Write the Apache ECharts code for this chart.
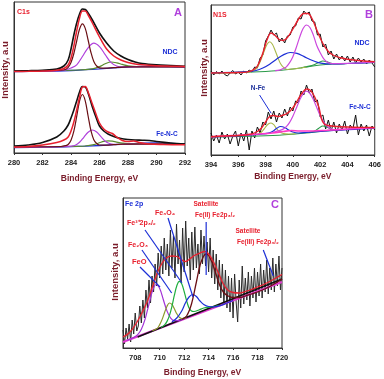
<!DOCTYPE html>
<html>
<head>
<meta charset="utf-8">
<script src="https://cdn.jsdelivr.net/npm/echarts@6/dist/echarts.min.js"></script>
<style>
html,body{margin:0;padding:0;background:#fff}
#chart{width:384px;height:379px}
</style>
</head>
<body>
<div id="chart"></div>
<script>
// ---- panel A : C1s (binding energy eV, intensity arb.) ----
const aTicks = [280, 282, 284, 286, 288, 290, 292];
const aBlueNdc = [[280,81.5],[282,81.8],[283,82],[284,82.5],[285,83.3],[286,84.2],[287,85.2],[288,86],[289,86.5],[290,86.5],[291,86.3],[292,86]];
const aMaroonNdc = [[280,81.6],[283.3,82.8],[283.6,83.5],[283.8,85.6],[284.0,90.5],[284.2,99.5],[284.4,112],[284.6,124],[284.8,129.2],[285.0,124.6],[285.2,113],[285.4,100.5],[285.6,91.5],[285.8,87],[286.0,85.2],[286.4,84.8],[287.0,85.4],[288,86.1],[292,86.1]];
const aMagNdc = [[280,81.5],[283.2,82.4],[283.6,83.2],[284.0,85],[284.4,88.2],[284.8,96.5],[285.2,105.2],[285.6,109.8],[286.0,106.3],[286.4,98.4],[286.8,90.6],[287.2,87],[287.6,86],[288.2,86.1],[289,86.5],[292,86.2]];
const aGreenNdc = [[280,81.8],[284.5,83],[285.5,84.2],[286.0,86.4],[286.4,89.2],[286.8,91],[287.2,90.2],[287.6,88.6],[288.0,87.2],[288.6,86.4],[289.5,86.5],[292,86]];
const aRawNdc = [[280,82],[281,82.3],[282,82.8],[283,84],[283.5,87],[283.8,93],[284.0,104],[284.2,118],[284.4,130],[284.6,139],[284.8,144],[285.0,143.5],[285.2,140],[285.5,133],[286.0,120],[286.5,110],[287.0,102],[287.5,97],[288.0,93.5],[288.5,91],[289.0,89.5],[290.0,88.2],[291,87.5],[292,86.8]];
const aFitNdc = [[280,81.5],[281,81.7],[282,82],[283,82.8],[283.5,84.5],[283.8,88],[284.0,95],[284.2,107],[284.4,122],[284.6,135],[284.8,142],[285.0,142],[285.2,138],[285.5,130],[286.0,116],[286.5,104],[287.0,97],[287.5,93],[288.0,90.5],[288.5,89],[289,88.2],[290,87.3],[291,86.8],[292,86.4]];

const aBlueFe = [[280,5.5],[282,5.8],[284,6.3],[285,6.8],[286,7.5],[287,8.3],[288,9],[289,9.8],[290,10],[291,9.5],[292,9]];
const aMaroonFe = [[280,6],[283.3,6.5],[283.6,7.3],[283.8,8.5],[284.0,12.8],[284.2,21.8],[284.4,36.6],[284.6,52],[284.8,58.5],[285.0,52.2],[285.2,37],[285.4,22.3],[285.6,13.3],[285.8,9.5],[286.0,8],[286.5,7.8],[287,8.3],[288,9],[292,8.8]];
const aMagFe = [[280,5.6],[283.5,6.3],[284.0,6.8],[284.3,7.8],[284.6,10.8],[284.9,15.7],[285.2,20.7],[285.5,23],[285.8,21],[286.1,16.3],[286.4,11.8],[286.7,9.5],[287.0,8.6],[287.5,8.5],[288,9],[292,9]];
const aGreenFe = [[280,5.8],[284.0,6.5],[285.0,7],[285.6,8.3],[286.0,10.2],[286.3,11.6],[286.6,12.2],[286.9,11.8],[287.2,10.9],[287.6,9.9],[288.2,9.2],[289,9.5],[292,9]];
const aRawFe = [[280,7],[281,8],[282,10.5],[283,16],[283.5,22],[283.8,28],[284.0,35],[284.2,43],[284.4,52],[284.6,61],[284.8,66.5],[285.0,66],[285.2,60],[285.5,46],[285.8,34],[286.0,27],[286.3,22],[286.6,19],[287.0,16.5],[287.5,14.5],[288,13.5],[288.5,13],[289,12.8],[289.5,12.5],[290,11.5],[291,10],[292,9]];
const aFitFe = [[280,6],[281,6.5],[282,8],[283,10.5],[283.5,13],[283.8,16],[284.0,22],[284.2,31],[284.4,43],[284.6,56],[284.8,66],[285.0,66.5],[285.2,61],[285.5,49],[285.8,37],[286.0,30],[286.3,24],[286.6,21],[286.9,19.5],[287.2,16],[287.6,12.5],[288.0,11.5],[288.4,12],[288.8,10.5],[289.5,9],[290.5,8.5],[292,8.2]];

// ---- panel B : N1S ----
const bTicks = [394, 396, 398, 400, 402, 404, 406];
const bEnergy = [394,394.2,394.4,394.6,394.8,395,395.2,395.4,395.6,395.8,396,396.2,396.4,396.6,396.8,397,397.2,397.4,397.6,397.8,
  398,398.2,398.4,398.6,398.8,399,399.2,399.4,399.6,399.8,400,400.2,400.4,400.6,400.8,401,401.2,401.4,401.6,401.8,
  402,402.2,402.4,402.6,402.8,403,403.2,403.4,403.6,403.8,404,404.2,404.4,404.6,404.8,405,405.2,405.4,405.6,405.8,406];
const bRawNdc = [84,80,83.5,81,84,80.5,79,82,84.5,81,83,80,84,82,85,83,88,87,97,100,
  114,119,125,120,122,113,117,112,119,120,128,129,137,136,144,141,143,134,133,120,
  121,108,111,100,104,96,101,95,99,94,99,93,98,92,97,93,96,91,95,92,88];
const bRawFe = [22,14,20,12,23,16,21,11,19,24,9,22,14,25,5,24,17,28,22,33,
  30,43,36,44,33,42,37,46,39,48,44,54,52,64,60,70,62,66,53,55,
  38,40,26,35,24,33,22,31,25,34,21,30,26,40,20,31,24,30,19,29,25];
const bBaseNdc = [[394,82],[396,82.5],[398,83.5],[399,84.5],[400,86],[401,88],[402,90],[403,91],[404,91.5],[405,92],[406,92.5]];
const bGreenNdc = [[400.6,87.3],[401.2,88.9],[401.6,90.6],[401.9,92.5],[402.2,94],[402.5,93.2],[402.8,91.8],[403.2,91.2],[403.8,91.4]];
const bOliveNdc = [[394,82],[396.5,83],[397.0,83.8],[397.3,86.2],[397.5,90.2],[397.7,96.5],[397.9,104],[398.1,110.5],[398.3,113.3],[398.5,110.7],[398.7,104.5],[398.9,97.4],[399.1,91.2],[399.3,87.8],[399.6,85.5],[400,86],[401,88]];
const bBlueNdc = [[394,82],[396.8,83.5],[397.3,84.5],[397.8,87],[398.3,90.8],[398.8,95.8],[399.3,100.1],[399.8,102.5],[400.3,101.6],[400.8,98.6],[401.3,95.2],[401.8,92.6],[402.3,91.4],[402.8,91.2],[403.5,91.2],[404,91.5],[406,92.5]];
const bMagNdc = [[398.7,84.3],[399.0,84.8],[399.25,86.3],[399.5,87.9],[399.75,92.1],[400.0,98.3],[400.25,107.5],[400.5,117.9],[400.75,126.5],[401.0,130],[401.25,127.5],[401.5,119.9],[401.75,109.5],[402.0,102.3],[402.25,96.4],[402.5,93.1],[402.75,91.7],[403.0,91.3],[403.5,91.4],[406,92.8]];
const bFitNdc = [[394,82],[395,82.2],[396,82.5],[396.6,82.9],[397.0,84.3],[397.4,89],[397.8,102],[398.1,115],[398.4,122],[398.7,119.5],[399.0,115.5],[399.3,114.5],[399.6,117.5],[400.0,126],[400.4,135.5],[400.8,141.5],[401.1,141.5],[401.4,136.5],[401.8,123.5],[402.2,111.5],[402.6,103.5],[403.0,99.5],[403.5,97.2],[404,95.8],[405,94.2],[406,93.2]];

const bPinkFe = [[394,18.3],[396,19.8],[397.5,21],[398.5,22],[399.3,23.5],[399.9,24.5],[400.5,24],[401.5,24],[402.5,24.8],[404,26],[406,27.3]];
const bBaseFe = [[394,18],[396,18.5],[398,19.2],[399,19.8],[400,20.8],[401,22],[402,23.5],[403,24.8],[404,25.7],[406,27]];
const bGreenFe = [[401.2,22.5],[401.6,24],[401.9,26.8],[402.2,29],[402.5,28],[402.8,25.8],[403.2,25],[403.8,25.5]];
const bOliveFe = [[396.8,19.8],[397.3,20.5],[397.6,22],[397.8,24.5],[398.0,28],[398.2,31],[398.4,32],[398.6,30.3],[398.8,26.5],[399.0,23.5],[399.3,21.5],[399.7,21],[400.2,21.2]];
const bBlueFe = [[394,18],[396,19],[397,20],[397.8,21],[398.2,21.8],[398.5,23.5],[398.8,26.5],[399.1,28.5],[399.4,27.5],[399.7,25],[400.0,23],[400.4,22],[401,22.5],[402,23.5],[403,24.5],[404,25.3],[405,26],[406,26.8]];
const bMagFe = [[398.5,22.5],[399.0,24.4],[399.25,25.6],[399.5,28.1],[399.75,32.4],[400.0,38.8],[400.25,46.8],[400.5,55],[400.75,61.2],[401.0,63.8],[401.25,61.5],[401.5,55.5],[401.75,47.5],[402.0,39.5],[402.25,33.2],[402.5,29],[402.75,26.5],[403.0,25.4],[403.5,25.3],[404,25.7]];
const bFitFe = [[394,18.3],[395,19],[396,19.5],[396.5,20],[397,21.2],[397.4,23.5],[397.7,27],[398.0,33],[398.3,38.5],[398.6,39.5],[398.9,38.5],[399.2,39.5],[399.5,41],[399.8,44],[400.1,49],[400.4,56],[400.7,62.5],[401.0,66],[401.3,64.5],[401.6,58],[401.9,48],[402.1,36],[402.3,31],[402.6,29.5],[403,28.8],[404,28],[405,27.6],[406,27.5]];
const bNFePointer = [[397.56,60],[398.41,41.7]];

// ---- panel C : Fe 2p ----
const cTicks = [708, 710, 712, 714, 716, 718, 720];
const cEnergy = [707,707.125,707.25,707.375,707.5,707.625,707.75,707.875,
  708,708.125,708.25,708.375,708.5,708.625,708.75,708.875,
  709,709.125,709.25,709.375,709.5,709.625,709.75,709.875,
  710,710.125,710.25,710.375,710.5,710.625,710.75,710.875,
  711,711.125,711.25,711.375,711.5,711.625,711.75,711.875,
  712,712.125,712.25,712.375,712.5,712.625,712.75,712.875,
  713,713.125,713.25,713.375,713.5,713.625,713.75,713.875,
  714,714.125,714.25,714.375,714.5,714.625,714.75,714.875,
  715,715.125,715.25,715.375,715.5,715.625,715.75,715.875,
  716,716.125,716.25,716.375,716.5,716.625,716.75,716.875,
  717,717.125,717.25,717.375,717.5,717.625,717.75,717.875,
  718,718.125,718.25,718.375,718.5,718.625,718.75,718.875,
  719,719.125,719.25,719.375,719.5,719.625,719.75,719.875,720];
const cRaw = [18,4,20,9,24,6,28,14,
  35,17,22,42,25,48,30,58,
  40,68,45,72,56,84,62,95,
  70,102,74,110,78,104,72,118,
  80,112,70,124,84,108,66,120,
  76,127,82,110,68,116,78,121,
  80,104,74,118,84,112,82,106,
  76,110,70,98,64,94,58,88,
  50,84,44,78,40,72,36,70,
  30,74,46,26,68,40,82,44,
  70,48,76,42,72,50,80,46,
  76,52,84,50,78,56,88,54,
  80,58,90,56,84,62,92,58,80];
const cBaseMag = [[707,6],[720,66]];
const cBaseBlack = [[708.2,11],[720,69]];
const cFeO = [[707.3,7.6],[707.9,10.7],[708.2,13.4],[708.5,18.8],[708.8,28.6],[709.1,42.7],[709.4,56.7],[709.7,63.5],[710.0,59.4],[710.3,48.2],[710.6,36.9],[710.9,29.9],[711.2,27.3],[711.5,27.3],[711.8,28.4],[712.2,30]];
const cFe2O3 = [[709.4,17.3],[709.8,19.6],[710.0,23.4],[710.2,28.6],[710.4,35.5],[710.6,41.8],[710.8,45],[711.0,43.6],[711.2,39.2],[711.4,34.2],[711.6,30.8],[711.8,29.5],[712.2,30]];
const cFe3 = [[710.1,20.5],[710.4,23.2],[710.6,26.6],[710.8,32.6],[711.0,41.7],[711.2,52.8],[711.4,62.3],[711.6,66.7],[711.8,64.2],[712.0,56.5],[712.2,47.3],[712.4,40],[712.6,37],[712.8,36.5],[713.2,38],[713.6,40],[714.2,41],[714.8,42.5]];
const cFe3O4 = [[711.0,26],[711.4,30],[711.8,37],[712.1,45],[712.4,51],[712.7,53.5],[713.0,51.5],[713.3,47],[713.6,43.5],[714.0,41.5],[714.5,41.2],[715.0,42.5],[715.5,45],[716,47.5]];
const cSatII = [[711.8,28.5],[712.2,32],[712.6,44],[713.0,66],[713.3,83],[713.6,92],[713.8,94],[714.0,92.5],[714.3,85],[714.6,74],[714.9,63],[715.2,56],[715.6,52],[716.0,50.5],[716.5,50.5],[717.0,52],[717.5,54],[718.0,56],[718.5,58.5],[719.0,61.5],[719.5,65],[720.0,69]];
const cFit = [[707.0,11],[707.5,15],[708.0,23],[708.5,34],[709.0,47],[709.4,61],[709.8,75],[710.2,85],[710.6,90.5],[711.0,92],[711.4,91.5],[711.8,88],[712.1,86.5],[712.5,89.5],[712.9,93],[713.3,95],[713.7,96.5],[714.0,94],[714.4,86],[714.8,75],[715.2,64],[715.6,57.5],[716.0,55.5],[716.5,55],[717.0,56.5],[717.5,58.5],[718.0,61],[718.5,63.5],[719.0,66.5],[719.5,70],[720.0,73.5]];
const cPointers = [
  [[710.68,130],[712.72,51]],
  [[708.8,118],[711.82,65]],
  [[708.55,98],[710.98,55]],
  [[708.39,81],[710.03,61]],
  [[713.8,126],[713.8,73]],
  [[718.47,98],[719.29,72]]
];

const FONT = '"Liberation Sans", Arial, sans-serif';
const RED = '#e8202e', MAROON = '#6a0f14', BLUE = '#1c2fd6', VIOLET = '#b040dc';
const AXNAME = '#7a1c2a';

function curve(data, color, w, g, smooth, z) {
  return {
    type: 'line', data: data, xAxisIndex: g, yAxisIndex: g,
    symbol: 'none', smooth: smooth ? 0.35 : false, silent: true, z: z || 2,
    lineStyle: { color: color, width: w }
  };
}
function zip(xs, ys) {
  return xs.map(function (x, i) { return [x, ys[i]]; });
}
function xAx(g, min, max, ticks, gap) {
  return {
    gridIndex: g, type: 'value', min: min, max: max,
    name: 'Binding Energy, eV', nameLocation: 'middle', nameGap: gap,
    nameTextStyle: { color: AXNAME, fontFamily: FONT, fontWeight: 'bold', fontSize: 8.5 },
    axisLine: { show: true, onZero: false, lineStyle: { color: '#333', width: 1 } },
    axisTick: { show: true, length: 2, customValues: ticks, lineStyle: { color: '#333' } },
    axisLabel: { customValues: ticks, margin: 6, color: '#222', fontFamily: FONT, fontWeight: 'bold', fontSize: 7.5 },
    splitLine: { show: false }
  };
}
function yAx(g, max) {
  return {
    gridIndex: g, type: 'value', min: 0, max: max,
    axisLine: { show: true, lineStyle: { color: '#333' } },
    axisTick: { show: false }, axisLabel: { show: false }, splitLine: { show: false }
  };
}
function txt(x, y, s, color, size, align) {
  return {
    type: 'text', x: x, y: y, silent: true,
    style: { text: s, fill: color, font: 'bold ' + size + 'px ' + FONT, align: align || 'left', verticalAlign: 'middle' }
  };
}
function vtxt(x, y, s) {
  return {
    type: 'text', x: x, y: y, rotation: Math.PI / 2, silent: true,
    style: { text: s, fill: AXNAME, font: 'bold 9.5px ' + FONT, align: 'center', verticalAlign: 'middle' }
  };
}

const series = [
  // A
  curve(aBlueNdc, BLUE, 1.3, 0, true),
  curve(aGreenNdc, '#5a8c2e', 1.2, 0, true),
  curve(aMagNdc, VIOLET, 1.2, 0, true),
  curve(aMaroonNdc, MAROON, 1.2, 0, true),
  curve(aRawNdc, '#111', 1.6, 0, true, 3),
  curve(aFitNdc, RED, 1.5, 0, true, 4),
  curve(aBlueFe, BLUE, 1.3, 0, true),
  curve(aGreenFe, '#5a8c2e', 1.2, 0, true),
  curve(aMagFe, VIOLET, 1.2, 0, true),
  curve(aMaroonFe, MAROON, 1.2, 0, true),
  curve(aRawFe, '#111', 1.6, 0, true, 3),
  curve(aFitFe, RED, 1.5, 0, true, 4),
  // B
  curve(zip(bEnergy, bRawNdc), '#111', 1, 1, false, 1),
  curve(bBaseNdc, '#2a9a48', 1.1, 1, true),
  curve(bGreenNdc, '#2a9a48', 1.1, 1, true),
  curve(bOliveNdc, '#a8b84a', 1.1, 1, true),
  curve(bBlueNdc, BLUE, 1.2, 1, true),
  curve(bMagNdc, '#cc48de', 1.2, 1, true),
  curve(bFitNdc, RED, 1.4, 1, true, 4),
  curve(zip(bEnergy, bRawFe), '#111', 1, 1, false, 1),
  curve(bBaseFe, '#2a9a48', 1.1, 1, true),
  curve(bGreenFe, '#2a9a48', 1.1, 1, true),
  curve(bOliveFe, '#a8b84a', 1.1, 1, true),
  curve(bBlueFe, BLUE, 1.2, 1, true),
  curve(bMagFe, '#cc48de', 1.2, 1, true),
  curve(bPinkFe, '#ff38c8', 1.6, 1, true, 3),
  curve(bFitFe, RED, 1.4, 1, true, 4),
  curve(bNFePointer, BLUE, 1, 1, false, 5),
  // C
  curve(zip(cEnergy, cRaw), '#2a2a2a', 1, 2, false, 1),
  curve(cBaseMag, '#e23ad0', 2, 2, false, 2),
  curve(cBaseBlack, '#111', 1.6, 2, false, 2),
  curve(cFeO, '#a232d6', 1.2, 2, true, 3),
  curve(cFe2O3, '#8c9a2c', 1.2, 2, true, 3),
  curve(cFe3, '#1fae3e', 1.2, 2, true, 3),
  curve(cFe3O4, BLUE, 1.2, 2, true, 3),
  curve(cSatII, MAROON, 1.3, 2, true, 3),
  curve(cFit, RED, 1.3, 2, true, 4)
];
cPointers.forEach(function (p) { series.push(curve(p, BLUE, 1.2, 2, false, 5)); });

const chart = echarts.init(document.getElementById('chart'), null, { renderer: 'canvas' });
chart.setOption({
  animation: false,
  backgroundColor: '#fff',
  grid: [
    { left: 14, top: 2, width: 171, height: 151, show: true, borderColor: '#333', borderWidth: 1 },
    { left: 211, top: 5, width: 166, height: 150, show: true, borderColor: '#333', borderWidth: 1 },
    { left: 123, top: 198, width: 159, height: 150, show: true, borderColor: '#333', borderWidth: 1 }
  ],
  xAxis: [xAx(0, 280, 292, aTicks, 21), xAx(1, 394, 406, bTicks, 17), xAx(2, 707, 720, cTicks, 20)],
  yAxis: [yAx(0, 151), yAx(1, 150), yAx(2, 150)],
  series: series,
  graphic: [
    vtxt(5, 70, 'Intensity, a.u'),
    vtxt(204, 68, 'Intensity, a.u'),
    vtxt(115, 272, 'Intensity, a.u'),
    txt(17, 12, 'C1s', RED, 7),
    txt(178, 13, 'A', VIOLET, 11, 'center'),
    txt(170, 52, 'NDC', BLUE, 7, 'center'),
    txt(167, 134, 'Fe-N-C', BLUE, 6.5, 'center'),
    txt(213, 15, 'N1S', RED, 7),
    txt(369, 15, 'B', VIOLET, 11, 'center'),
    txt(362, 43, 'NDC', BLUE, 7, 'center'),
    txt(258, 88, 'N-Fe', '#1c2f9a', 6.5, 'center'),
    txt(360, 107, 'Fe-N-C', BLUE, 6.5, 'center'),
    txt(125, 204, 'Fe 2p', BLUE, 7),
    txt(275, 205, 'C', VIOLET, 11, 'center'),
    txt(165, 213, 'Fe₃O₄', RED, 7, 'center'),
    txt(127, 223, 'Fe³⁺2p₃/₂', RED, 7),
    txt(128, 245, 'Fe₂O₃', RED, 7),
    txt(132, 262, 'FeO', RED, 7.5),
    txt(206, 204, 'Satellite', RED, 6.5, 'center'),
    txt(195, 215, 'Fe(II) Fe2p₃/₂', RED, 6.5),
    txt(248, 231, 'Satellite', RED, 6.5, 'center'),
    txt(237, 242, 'Fe(III) Fe2p₃/₂', RED, 6.5)
  ]
});
</script>
</body>
</html>
